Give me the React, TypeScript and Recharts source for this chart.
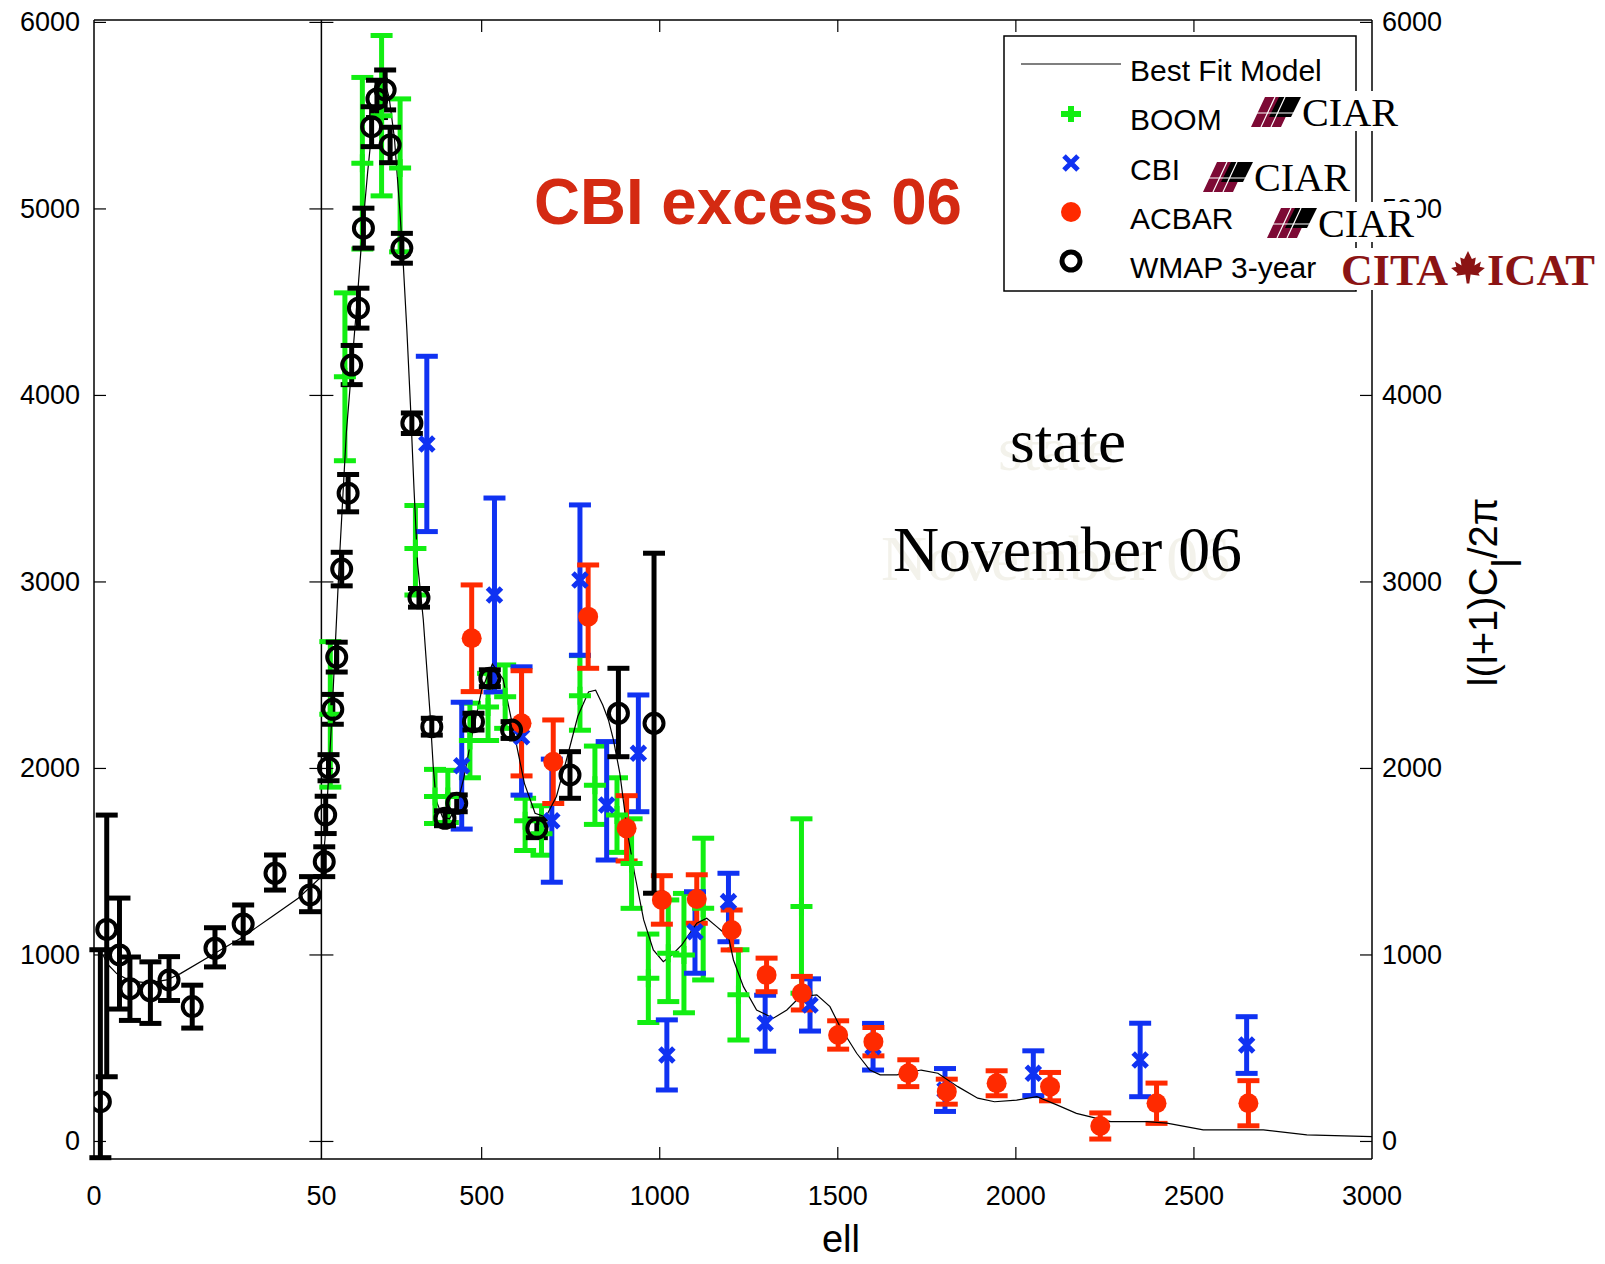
import React from 'react';
import { ScatterChart, Scatter, XAxis, YAxis, ErrorBar, ReferenceLine } from 'recharts';

// canvas + plot box (px)
const WIDTH = 1605;
const HEIGHT = 1264;
const PLOT_L = 94;
const PLOT_R = 1372;
const PLOT_T = 20;
const PLOT_B = 1159;

// the x axis is split: 0..50 on the first segment, 50..3000 on the rest
const ELL_BREAK = 50;
const ELL_MAX = 3000;
const LOW_FRAC = 227.4 / 1278;

const ellToU = (ell: number) =>
  ell <= ELL_BREAK
    ? (ell / ELL_BREAK) * LOW_FRAC
    : LOW_FRAC + ((ell - ELL_BREAK) / (ELL_MAX - ELL_BREAK)) * (1 - LOW_FRAC);

const DIV_X = PLOT_L + LOW_FRAC * (PLOT_R - PLOT_L);

const Y_DOMAIN: [number, number] = [-94, 6013];
const Y_TICKS = [0, 1000, 2000, 3000, 4000, 5000, 6000];
const X_TICK_LABELS = [0, 50, 500, 1000, 1500, 2000, 2500, 3000];

const GREEN = '#12ee12';
const BLUE = '#1032f2';
const RED = '#ff2a00';
const MAROON = '#7d0a35';
const SANS = '"Liberation Sans", Arial, Helvetica, sans-serif';
const SERIF = '"Liberation Serif", "Times New Roman", serif';

// Best fit model
const modelEll = [2, 3, 5, 8, 12, 16, 19, 26.6, 32.8, 39.1, 44.9, 50, 60, 70, 80, 90, 100, 110, 120, 135, 150, 165, 180, 195, 210, 225, 240, 255, 270, 280, 290, 300, 310, 320, 336, 355, 364, 372, 390, 410, 430, 450, 470, 500, 530, 560, 590, 620, 650, 680, 710, 740, 770, 800, 820, 840, 856, 870, 888, 910, 930, 955, 982, 1010, 1034, 1062, 1104, 1132, 1160, 1193, 1207, 1235, 1272, 1319, 1357, 1394, 1441, 1478, 1506, 1553, 1590, 1619, 1666, 1734, 1781, 1837, 1893, 1940, 2002, 2059, 2115, 2170, 2227, 2266, 2368, 2424, 2526, 2695, 2817, 3000];
const modelVal = [1000, 950, 900, 860, 850, 866, 900, 1009, 1098, 1205, 1304, 1420, 1620, 1950, 2300, 2700, 3100, 3450, 3800, 4150, 4500, 4880, 5200, 5480, 5650, 5700, 5600, 5380, 5000, 4700, 4350, 3950, 3500, 3100, 2800, 2296, 2010, 1830, 1740, 1730, 1800, 1950, 2150, 2420, 2560, 2480, 2200, 1920, 1760, 1740, 1850, 2060, 2280, 2410, 2420, 2340, 2260, 2153, 1974, 1650, 1430, 1188, 1027, 964, 1000, 1054, 1170, 1197, 1152, 1098, 973, 830, 705, 661, 705, 776, 786, 723, 616, 473, 383, 357, 357, 383, 366, 294, 232, 213, 222, 240, 196, 151, 124, 106, 106, 98, 62, 62, 35, 26];

// BOOM
const boomEll = [75, 116, 165, 219, 271, 314, 369, 405, 467, 518, 566, 622, 668, 776, 818, 880, 921, 968, 1024, 1068, 1122, 1221, 1398];
const boomVal = [2290, 4100, 5245, 5500, 5220, 3180, 1850, 1850, 2150, 2330, 2385, 1720, 1650, 2390, 1910, 1750, 1490, 875, 1009, 1000, 1250, 786, 1260];
const boomErr = [[390, 390], [450, 450], [460, 460], [430, 430], [450, 370], [250, 230], [145, 145], [140, 140], [200, 200], [180, 180], [170, 170], [160, 120], [115, 150], [185, 215], [210, 210], [200, 200], [240, 240], [237, 237], [259, 286], [310, 330], [384, 376], [242, 242], [465, 470]];

// CBI
const cbiEll = [346, 444, 536, 612, 697, 776, 851, 940, 1020, 1099, 1193, 1296, 1422, 1599, 1801, 2049, 2349, 2648];
const cbiVal = [3740, 2015, 2930, 2170, 1720, 3010, 1804, 2081, 464, 1125, 1286, 634, 732, 508, 276, 366, 437, 517];
const cbiErr = [[470, 470], [340, 340], [520, 520], [313, 375], [330, 330], [403, 403], [295, 340], [313, 313], [188, 188], [223, 214], [215, 152], [150, 150], [140, 140], [125, 125], [115, 115], [120, 120], [197, 197], [152, 152]];

// ACBAR
const acbarEll = [472, 612, 701, 799, 907, 1006, 1104, 1202, 1300, 1399, 1501, 1600, 1698, 1806, 1946, 2096, 2237, 2395, 2653];
const acbarVal = [2698, 2242, 2036, 2814, 1679, 1295, 1300, 1134, 893, 795, 571, 535, 366, 267, 312, 294, 83, 205, 205];
const acbarErr = [[286, 286], [282, 282], [224, 224], [277, 277], [175, 175], [130, 130], [130, 130], [107, 107], [90, 90], [90, 90], [76, 76], [76, 76], [72, 72], [67, 67], [67, 67], [76, 76], [70, 70], [108, 108], [121, 121]];

// WMAP 3-year
const wmapEll = [1.4, 2.8, 5.6, 7.9, 12.4, 16.5, 21.6, 26.6, 32.8, 39.8, 47.5, 58, 62, 70, 82, 93, 107, 125, 135, 154, 168, 191, 206, 229, 243, 276, 304, 324, 360, 397, 430, 477, 523, 584, 655, 748, 884, 984];
const wmapVal = [213, 1137, 1000, 819, 808, 866, 723, 1036, 1166, 1438, 1322, 1500, 1751, 2004, 2317, 2597, 3069, 3476, 4163, 4468, 4897, 5441, 5590, 5638, 5343, 4789, 3851, 2915, 2224, 1733, 1813, 2251, 2484, 2206, 1679, 1965, 2296, 2242];
const wmapErr = [[300, 815], [790, 613], [290, 305], [170, 170], [175, 155], [110, 125], [115, 115], [100, 110], [102, 102], [90, 98], [90, 98], [80, 80], [100, 100], [70, 70], [80, 80], [80, 80], [90, 90], [100, 100], [105, 105], [107, 107], [107, 107], [107, 107], [100, 100], [107, 107], [95, 95], [80, 80], [55, 55], [50, 50], [45, 45], [40, 40], [45, 45], [45, 45], [45, 45], [45, 45], [50, 50], [125, 125], [233, 241], [911, 912]];

const rows = (ell: number[], val: number[], err?: number[][]) =>
  ell.map((e, i) => ({ u: ellToU(e), v: val[i], err: err ? err[i] : undefined }));

const modelRows = rows(modelEll, modelVal);
const boomRows = rows(boomEll, boomVal, boomErr);
const cbiRows = rows(cbiEll, cbiVal, cbiErr);
const acbarRows = rows(acbarEll, acbarVal, acbarErr);
const wmapRows = rows(wmapEll, wmapVal, wmapErr);

// marker glyphs (take only what they need; recharts passes its own size/r props)
const plusPath = (cx: number, cy: number, s: number) =>
  `M${cx - s},${cy}H${cx + s}M${cx},${cy - s + 2}V${cy + s - 2}`;
const crossPath = (cx: number, cy: number, s: number) =>
  `M${cx - s},${cy - s}L${cx + s},${cy + s}M${cx - s},${cy + s}L${cx + s},${cy - s}`;

const boomShape = (p: any) => <path d={plusPath(p.cx, p.cy, 11)} stroke={GREEN} strokeWidth={5} fill="none" />;
const cbiShape = (p: any) => <path d={crossPath(p.cx, p.cy, 7)} stroke={BLUE} strokeWidth={5} fill="none" />;
const acbarShape = (p: any) => <circle cx={p.cx} cy={p.cy} r={10} fill={RED} />;
const wmapShape = (p: any) => <circle cx={p.cx} cy={p.cy} r={9.5} fill="none" stroke="#000" strokeWidth={4} />;

const tickText = { fontFamily: SANS, fontSize: 27, fill: '#000' };

const LeftTick = (props: any) => {
  const { y, payload } = props;
  return (
    <g>
      <text x={PLOT_L - 14} y={y} textAnchor="end" dominantBaseline="central" {...tickText}>{payload.value}</text>
      <line x1={PLOT_L} x2={PLOT_L + 12} y1={y} y2={y} stroke="#000" strokeWidth={1.2} />
      <line x1={DIV_X - 12} x2={DIV_X + 12} y1={y} y2={y} stroke="#000" strokeWidth={1.2} />
    </g>
  );
};

const RightTick = (props: any) => {
  const { y, payload } = props;
  return (
    <g>
      <text x={PLOT_R + 10} y={y} textAnchor="start" dominantBaseline="central" {...tickText}>{payload.value}</text>
      <line x1={PLOT_R - 12} x2={PLOT_R} y1={y} y2={y} stroke="#000" strokeWidth={1.2} />
    </g>
  );
};

const XTick = (props: any) => {
  const { x, index } = props;
  const ell = X_TICK_LABELS[index];
  const inner = ell !== 0 && ell !== ELL_BREAK && ell !== ELL_MAX;
  return (
    <g>
      <text x={x} y={PLOT_B + 37} textAnchor="middle" dominantBaseline="central" {...tickText}>{ell}</text>
      {inner && <line x1={x} x2={x} y1={PLOT_B} y2={PLOT_B - 12} stroke="#000" strokeWidth={1.2} />}
      {inner && <line x1={x} x2={x} y1={PLOT_T} y2={PLOT_T + 12} stroke="#000" strokeWidth={1.2} />}
    </g>
  );
};

const CiarLogo = ({ x, y }: { x: number; y: number }) => (
  <g transform={`translate(${x},${y})`}>
    <rect x={0} y={0} width={152} height={40} fill="#fff" />
    <polygon points="2,36 16,6 46,6 32,36" fill={MAROON} />
    <polygon points="30,6 52,6 42,26 20,26" fill="#000" />
    <line x1={12} y1={36} x2={26} y2={6} stroke="#fff" strokeWidth={1.2} />
    <line x1={22} y1={36} x2={36} y2={6} stroke="#fff" strokeWidth={1.2} />
    <line x1={2} y1={22} x2={52} y2={22} stroke="#fff" strokeWidth={1.2} />
    <text x={53} y={35} fontFamily={SERIF} fontSize={41} fill="#000" textLength={96} lengthAdjust="spacingAndGlyphs">CIAR</text>
  </g>
);

const MAPLE = 'M0,-13 L3,-7 L6,-8 L5,-2 L10,-5 L9,-1 L13,0 L8,4 L9,6 L2,5 L1,12 L-1,12 L-2,5 L-9,6 L-8,4 L-13,0 L-9,-1 L-10,-5 L-5,-2 L-6,-8 L-3,-7 Z';

const Overlay = () => (
  <svg width={WIDTH} height={HEIGHT} style={{ position: 'absolute', left: 0, top: 0, pointerEvents: 'none' }}>
    {/* headline */}
    <text x={534} y={224} fontFamily={SANS} fontWeight="bold" fontSize={64} fill="#d42a12" textLength={428} lengthAdjust="spacingAndGlyphs">CBI excess 06</text>

    {/* faint ghost + main "state / November 06" */}
    <text x={998} y={470} fontFamily={SERIF} fontSize={62} fill="#f3f2eb" textLength={116} lengthAdjust="spacingAndGlyphs">state</text>
    <text x={881} y={580} fontFamily={SERIF} fontSize={64} fill="#f3f2eb" textLength={349} lengthAdjust="spacingAndGlyphs">November 06</text>
    <text x={1010} y={462} fontFamily={SERIF} fontSize={62} fill="#000" textLength={116} lengthAdjust="spacingAndGlyphs">state</text>
    <text x={893} y={571} fontFamily={SERIF} fontSize={64} fill="#000" textLength={349} lengthAdjust="spacingAndGlyphs">November 06</text>

    {/* legend */}
    <rect x={1004} y={36} width={352} height={255} fill="#fff" stroke="#000" strokeWidth={1.5} />
    <line x1={1021} x2={1121} y1={64} y2={64} stroke="#000" strokeWidth={1.2} />
    <path d={plusPath(1071, 114, 10)} stroke={GREEN} strokeWidth={6} fill="none" />
    <path d={crossPath(1071, 163, 7)} stroke={BLUE} strokeWidth={5} fill="none" />
    <circle cx={1071} cy={212} r={10} fill={RED} />
    <circle cx={1071} cy={261} r={9} fill="none" stroke="#000" strokeWidth={5} />
    <g fontFamily={SANS} fontSize={30} fill="#000">
      <text x={1130} y={81}>Best Fit Model</text>
      <text x={1130} y={130}>BOOM</text>
      <text x={1130} y={180}>CBI</text>
      <text x={1130} y={229}>ACBAR</text>
      <text x={1130} y={278}>WMAP 3-year</text>
    </g>

    {/* logos */}
    <CiarLogo x={1249} y={91} />
    <CiarLogo x={1201} y={156} />
    <CiarLogo x={1265} y={202} />
    <rect x={1338} y={248} width={262} height={42} fill="#fff" />
    <text x={1341} y={285} fontFamily={SERIF} fontWeight="bold" fontSize={44} fill="#8b1414" textLength={107} lengthAdjust="spacingAndGlyphs">CITA</text>
    <path d={MAPLE} transform="translate(1468,268) scale(1.3)" fill="#8b1414" />
    <text x={1487} y={285} fontFamily={SERIF} fontWeight="bold" fontSize={44} fill="#8b1414" textLength={108} lengthAdjust="spacingAndGlyphs">ICAT</text>

    {/* right axis title */}
    <g transform="translate(1497,592) rotate(-90)">
      <text x={0} y={0} textAnchor="middle" fontFamily={SANS} fontSize={40} fill="#000">
        l(l+1)C<tspan dy={24}>l</tspan><tspan dy={-24}>/2π</tspan>
      </text>
    </g>

    {/* x axis title */}
    <text x={841} y={1252} textAnchor="middle" fontFamily={SANS} fontSize={38} fill="#000">ell</text>
  </svg>
);

const axisLine = { stroke: '#000', strokeWidth: 1.5 };

export default function App() {
  return (
    <div style={{ position: 'absolute', left: 0, top: 0, width: WIDTH, height: HEIGHT, background: '#fff' }}>
      <ScatterChart width={WIDTH} height={HEIGHT} margin={{ top: PLOT_T, right: 0, bottom: 0, left: 0 }}>
        <XAxis
          type="number"
          dataKey="u"
          domain={[0, 1]}
          allowDataOverflow
          ticks={X_TICK_LABELS.map(ellToU)}
          interval={0}
          height={HEIGHT - PLOT_B}
          tick={XTick}
          tickLine={false}
          axisLine={axisLine}
        />
        <YAxis
          yAxisId="left"
          type="number"
          dataKey="v"
          domain={Y_DOMAIN}
          allowDataOverflow
          ticks={Y_TICKS}
          interval={0}
          width={PLOT_L}
          tick={LeftTick}
          tickLine={false}
          axisLine={axisLine}
        />
        <YAxis
          yAxisId="right"
          orientation="right"
          type="number"
          domain={Y_DOMAIN}
          allowDataOverflow
          ticks={Y_TICKS}
          interval={0}
          width={WIDTH - PLOT_R}
          tick={RightTick}
          tickLine={false}
          axisLine={axisLine}
        />
        <ReferenceLine yAxisId="left" y={Y_DOMAIN[1]} stroke="#000" strokeWidth={1.5} />
        <ReferenceLine yAxisId="left" x={ellToU(ELL_BREAK)} stroke="#000" strokeWidth={1.5} />

        <Scatter
          yAxisId="left"
          data={modelRows}
          line={{ stroke: '#000', strokeWidth: 1.2 }}
          shape={() => <g />}
          isAnimationActive={false}
        />
        <Scatter yAxisId="left" data={boomRows} shape={boomShape} isAnimationActive={false}>
          <ErrorBar dataKey="err" direction="y" width={11} strokeWidth={5} stroke={GREEN} />
        </Scatter>
        <Scatter yAxisId="left" data={cbiRows} shape={cbiShape} isAnimationActive={false}>
          <ErrorBar dataKey="err" direction="y" width={11} strokeWidth={5} stroke={BLUE} />
        </Scatter>
        <Scatter yAxisId="left" data={acbarRows} shape={acbarShape} isAnimationActive={false}>
          <ErrorBar dataKey="err" direction="y" width={11} strokeWidth={5} stroke={RED} />
        </Scatter>
        <Scatter yAxisId="left" data={wmapRows} shape={wmapShape} isAnimationActive={false}>
          <ErrorBar dataKey="err" direction="y" width={11} strokeWidth={5} stroke="#000" />
        </Scatter>
      </ScatterChart>
      <Overlay />
    </div>
  );
}
